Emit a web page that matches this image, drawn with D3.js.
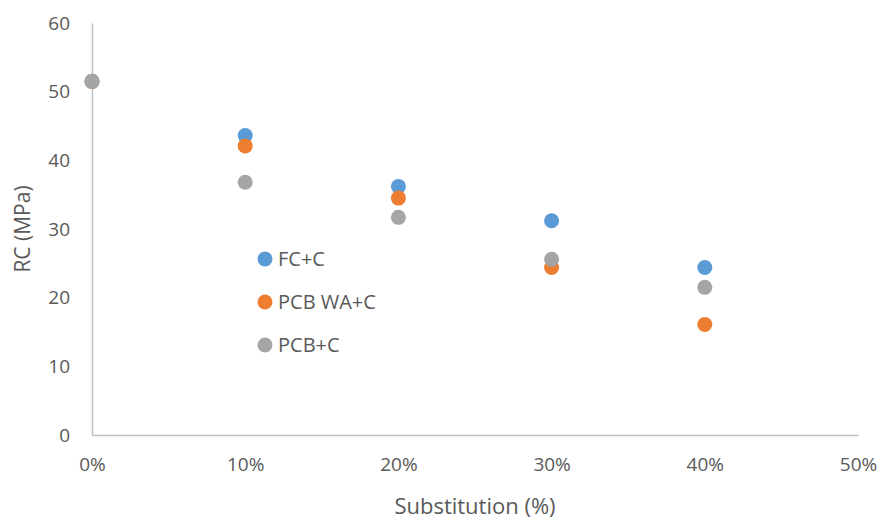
<!DOCTYPE html>
<html>
<head>
<meta charset="utf-8">
<script src="https://cdn.jsdelivr.net/npm/d3@7"></script>
<style>
  body { margin: 0; background: #fff; }
  text { font-family: "Open Sans", "Noto Sans", sans-serif; fill: #595959; }
</style>
</head>
<body>
<script>
// data
const substitution = [0, 0.1, 0.2, 0.3, 0.4];
const seriesNames = ["FC+C", "PCB WA+C", "PCB+C"];
const fcC = [51.5, 43.6, 36.2, 31.2, 24.4];
const pcbWaC = [51.5, 42.1, 34.5, 24.4, 16.1];
const pcbC = [51.5, 36.8, 31.7, 25.6, 21.5];
const seriesColors = ["#5B9BD5", "#ED7D31", "#A5A5A5"];
const xTicks = [0, 0.1, 0.2, 0.3, 0.4, 0.5];
const yTicks = [0, 10, 20, 30, 40, 50, 60];

const W = 885, H = 520;
const margin = {top: 23, right: 27, bottom: 85, left: 92};

const svg = d3.select("body").append("svg")
    .attr("width", W)
    .attr("height", H);

const x = d3.scaleLinear().domain([0, 0.5]).range([margin.left, W - margin.right]);
const y = d3.scaleLinear().domain([0, 60]).range([H - margin.bottom, margin.top]);

// axes
const xAxis = svg.append("g")
    .attr("transform", `translate(0,${y(0)})`)
    .call(d3.axisBottom(x).tickValues(xTicks).tickFormat(d3.format(".0%")).tickSize(0).tickPadding(23));
const yAxis = svg.append("g")
    .attr("transform", `translate(${x(0)},0)`)
    .call(d3.axisLeft(y).tickValues(yTicks).tickSize(0).tickPadding(22));

[xAxis, yAxis].forEach(a => {
    a.select(".domain").attr("stroke", "#BFBFBF").attr("stroke-width", 1.5);
    a.selectAll("text").style("font-size", "19px").attr("fill", "#595959");
});

// axis titles
svg.append("text")
    .attr("x", (margin.left + W - margin.right) / 2)
    .attr("y", 514)
    .attr("text-anchor", "middle")
    .style("font-size", "22px")
    .text("Substitution (%)");

svg.append("text")
    .attr("transform", `translate(30,${(margin.top + H - margin.bottom) / 2}) rotate(-90)`)
    .attr("text-anchor", "middle")
    .style("font-size", "21px")
    .text("RC (MPa)");

// points
const series = [fcC, pcbWaC, pcbC];
series.forEach((vals, i) => {
    svg.append("g").selectAll("circle")
        .data(vals)
        .enter()
        .append("circle")
        .attr("cx", (d, j) => x(substitution[j]))
        .attr("cy", d => y(d))
        .attr("r", 7.5)
        .attr("fill", seriesColors[i]);
});

// legend
const legend = svg.append("g").attr("transform", "translate(265,259)");
seriesNames.forEach((name, i) => {
    const g = legend.append("g").attr("transform", `translate(0,${i * 43})`);
    g.append("circle").attr("r", 7.5).attr("fill", seriesColors[i]);
    g.append("text")
        .attr("x", 13)
        .attr("dy", "0.35em")
        .style("font-size", "20px")
        .text(name);
});
</script>
</body>
</html>
